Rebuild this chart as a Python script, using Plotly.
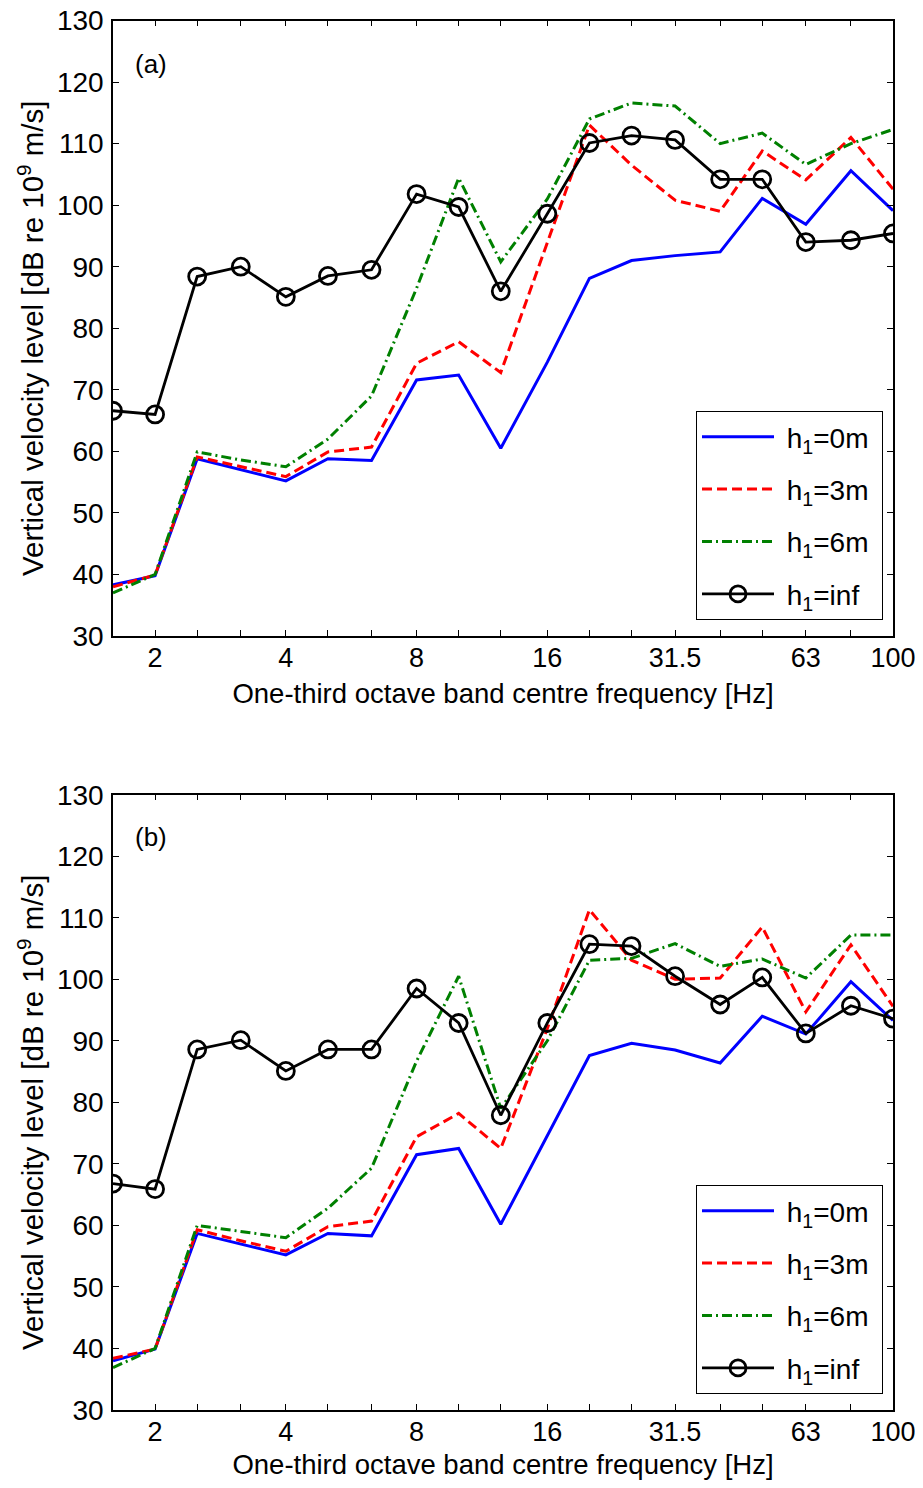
import plotly.graph_objects as go
import numpy as np

# One-third octave band centre frequencies [Hz]
freqs = [1.6, 2, 2.5, 3.15, 4, 5, 6.3, 8, 10, 12.5, 16, 20, 25, 31.5, 40, 50, 63, 80, 100]
tick_vals = [2, 4, 8, 16, 31.5, 63, 100]
tick_text = ["2", "4", "8", "16", "31.5", "63", "100"]

# Panel (a)
a_h0 = [38.3, 39.8, 58.8, 57.0, 55.2, 58.8, 58.5, 71.6, 72.4, 60.5, 74.5, 88.1, 91.0, 91.8, 92.4, 101.1, 96.9, 105.6, 99.1]
a_h3 = [38.0, 39.9, 59.1, 57.5, 55.9, 59.9, 60.7, 74.3, 77.8, 72.8, 94.0, 113.0, 106.5, 100.8, 99.0, 108.8, 104.1, 111.0, 102.6]
a_h6 = [37.0, 40.0, 59.9, 58.6, 57.5, 62.0, 69.0, 86.5, 104.4, 90.8, 101.0, 114.0, 116.6, 116.1, 110.0, 111.7, 106.6, 110.0, 112.3]
a_inf = [66.6, 66.0, 88.4, 90.0, 85.1, 88.5, 89.5, 101.8, 99.7, 86.0, 98.6, 110.1, 111.3, 110.6, 104.2, 104.2, 94.0, 94.3, 95.4]

# Panel (b)
b_h0 = [38.0, 39.9, 58.7, 57.0, 55.2, 58.7, 58.3, 71.5, 72.5, 60.2, 74.5, 87.6, 89.6, 88.5, 86.4, 94.0, 91.1, 99.6, 93.3]
b_h3 = [38.4, 39.9, 59.3, 57.5, 55.8, 59.8, 60.7, 74.4, 78.2, 72.5, 92.0, 111.3, 103.1, 100.0, 100.2, 108.5, 94.7, 105.6, 95.6]
b_h6 = [36.9, 40.0, 60.0, 59.0, 58.0, 62.8, 69.3, 86.7, 100.5, 79.0, 90.0, 103.1, 103.4, 105.8, 102.1, 103.3, 100.2, 107.2, 107.2]
b_inf = [66.8, 65.9, 88.6, 90.1, 85.1, 88.6, 88.6, 98.5, 92.9, 77.9, 92.9, 105.7, 105.4, 100.5, 95.9, 100.3, 91.2, 95.7, 93.6]

names = ["&nbsp;h<sub>1</sub>=0m&nbsp;", "&nbsp;h<sub>1</sub>=3m&nbsp;",
         "&nbsp;h<sub>1</sub>=6m&nbsp;", "&nbsp;h<sub>1</sub>=inf&nbsp;"]
y_title = "Vertical velocity level [dB re 10<sup>9</sup> m/s]"
x_title = "One-third octave band centre frequency [Hz]"

FONT = "Arial, Liberation Sans, Helvetica, sans-serif"
FS = 27
PAGE_W, PAGE_H = 923, 1488
OFF = 8  # default body margin of the html page
W, H = PAGE_W - 2 * OFF, PAGE_H - 2 * OFF


def px(xp):
    return (xp - OFF) / W


def py(yp):
    return 1 - (yp - OFF) / H


fig = go.Figure()


def add_panel(series, xa, ya, legend):
    styles = [
        dict(color="#0000FF", width=3, dash="solid"),
        dict(color="#FF0000", width=3, dash="10px,5px"),
        dict(color="#008000", width=3, dash="10px,4px,2px,4px"),
        dict(color="#000000", width=2.8, dash="solid"),
    ]
    for k, (ys, nm, st) in enumerate(zip(series, names, styles)):
        mode = "lines+markers" if k == 3 else "lines"
        fig.add_trace(go.Scatter(
            x=freqs, y=ys, name=nm, mode=mode,
            line=st,
            marker=dict(symbol="circle-open", size=17, color="#000000",
                        line=dict(width=2.8, color="#000000")),
            xaxis=xa, yaxis=ya, legend=legend,
            legendgroup=legend + str(k), cliponaxis=True,
        ))


add_panel([a_h0, a_h3, a_h6, a_inf], "x", "y", "legend")
add_panel([b_h0, b_h3, b_h6, b_inf], "x2", "y2", "legend2")

x_left, x_right = px(113), px(893)
a_top, a_bot = py(20.5), py(636)
b_top, b_bot = py(794.7), py(1410)

xcommon = dict(
    type="log", range=[np.log10(1.6), 2.0],
    tickmode="array", tickvals=freqs,
    ticktext=[tick_text[tick_vals.index(f)] if f in tick_vals else "" for f in freqs],
    ticks="inside", ticklen=6, tickwidth=1, tickcolor="#000000",
    showline=True, linecolor="#000000", linewidth=1.5, mirror="ticks",
    showgrid=False, zeroline=False, automargin=False,
    tickfont=dict(family=FONT, size=FS, color="#000000"),
    ticklabelstandoff=-3, ticklabeloverflow="allow",
    title=dict(text=x_title,
               font=dict(family=FONT, size=FS + 0.5, color="#000000"), standoff=12),
)
ycommon = dict(
    range=[30, 130], tickmode="array", tickvals=list(range(30, 131, 10)),
    ticks="inside", ticklen=6, tickwidth=1, tickcolor="#000000",
    showline=True, linecolor="#000000", linewidth=1.5, mirror="ticks",
    showgrid=False, zeroline=False, automargin=False,
    tickfont=dict(family=FONT, size=FS + 1, color="#000000"),
    ticklabelstandoff=2, ticklabeloverflow="allow",
)

legcommon = dict(
    bgcolor="#FFFFFF", bordercolor="#000000", borderwidth=1,
    font=dict(family=FONT, size=FS + 1, color="#000000"),
    itemwidth=72, tracegroupgap=13, xanchor="left", yanchor="top",
    xref="paper", yref="paper",
)

annots = []
for lab, ylab, ytit in [("(a)", 64, 338), ("(b)", 837, 1112)]:
    annots.append(dict(text=lab, x=px(133), y=py(ylab), xref="paper", yref="paper",
                       xanchor="left", yanchor="middle", showarrow=False,
                       font=dict(family=FONT, size=FS - 1, color="#000000")))
    annots.append(dict(text=y_title, x=px(30), y=py(ytit), xref="paper", yref="paper",
                       xanchor="center", yanchor="middle", showarrow=False, textangle=-90,
                       font=dict(family=FONT, size=29.5, color="#000000")))

fig.update_layout(
    width=W, height=H,
    margin=dict(l=0, r=0, t=0, b=0, autoexpand=False),
    paper_bgcolor="#FFFFFF", plot_bgcolor="#FFFFFF",
    font=dict(family=FONT, size=FS, color="#000000"),
    xaxis=dict(domain=[x_left, x_right], anchor="y", **xcommon),
    yaxis=dict(domain=[a_bot, a_top], anchor="x", **ycommon),
    xaxis2=dict(domain=[x_left, x_right], anchor="y2", **xcommon),
    yaxis2=dict(domain=[b_bot, b_top], anchor="x2", **ycommon),
    legend=dict(x=px(696), y=py(411), **legcommon),
    legend2=dict(x=px(696), y=py(1185), **legcommon),
    showlegend=True,
    annotations=annots,
)

fig.write_html("out.html")
